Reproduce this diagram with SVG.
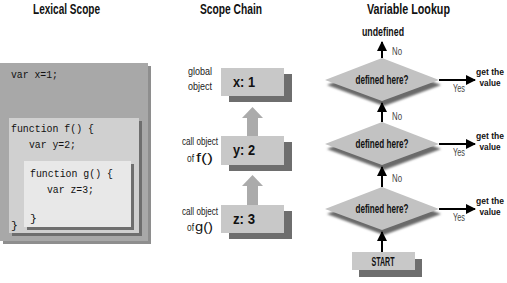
<svg xmlns="http://www.w3.org/2000/svg" width="507" height="283" viewBox="0 0 507 283">
<style>
.t{font-family:"Liberation Sans Narrow","Liberation Sans",sans-serif;font-weight:bold;font-size:14px;fill:#111}
.code{font-family:"Liberation Mono",monospace;font-size:11.5px;fill:#111}
.lbl{font-family:"Liberation Sans Narrow","Liberation Sans",sans-serif;font-size:11px;fill:#222}
.fn{font-family:"Liberation Sans",sans-serif;font-size:12px;fill:#111}
.b{font-family:"Liberation Sans Narrow","Liberation Sans",sans-serif;font-weight:bold;font-size:12px;fill:#111}
.v{font-family:"Liberation Sans Narrow","Liberation Sans",sans-serif;font-weight:bold;font-size:9px;fill:#111}
.yn{font-family:"Liberation Sans Narrow","Liberation Sans",sans-serif;font-size:11px;fill:#444}
.box{fill:#c8c8c8}
.sh{fill:#6e6e6e}
.blk{fill:#ababab}
.dia{fill:#c2c2c2}
.dsh{fill:#6a6a6a;filter:url(#blur)}
.line{stroke:#000;stroke-width:2;fill:none}
</style>
<defs>
<filter id="blur" x="-10%" y="-20%" width="120%" height="140%"><feGaussianBlur stdDeviation="1.2"/></filter>
<marker id="ah" viewBox="0 0 10 10" refX="9" refY="5" markerWidth="5" markerHeight="5" orient="auto" markerUnits="strokeWidth"><path d="M0,0 L10,5 L0,10 z" fill="#000"/></marker>
</defs>
<rect width="507" height="283" fill="#fff"/>

<!-- Titles -->
<text class="t" x="33" y="14" textLength="67" lengthAdjust="spacingAndGlyphs">Lexical Scope</text>
<text class="t" x="200" y="14" textLength="62" lengthAdjust="spacingAndGlyphs">Scope Chain</text>
<text class="t" x="367" y="14" textLength="83" lengthAdjust="spacingAndGlyphs">Variable Lookup</text>

<!-- Lexical scope -->
<g id="lexical">
<rect x="3" y="66" width="148" height="178" fill="#8e8e8e"/>
<rect x="0" y="63" width="148" height="178" fill="#a8a8a8"/>
<rect x="12" y="121" width="130" height="115" fill="#6e6e6e"/>
<rect x="9" y="118" width="130" height="115" fill="#d0d0d0"/>
<rect x="27" y="164" width="107" height="66" fill="#6e6e6e"/>
<rect x="24" y="161" width="107" height="66" fill="#e8e8e8"/>
<text class="code" x="11" y="78" textLength="47" lengthAdjust="spacingAndGlyphs">var x=1;</text>
<text class="code" x="11" y="132" textLength="83" lengthAdjust="spacingAndGlyphs">function f() {</text>
<text class="code" x="29" y="148" textLength="47" lengthAdjust="spacingAndGlyphs">var y=2;</text>
<text class="code" x="30" y="177" textLength="83" lengthAdjust="spacingAndGlyphs">function g() {</text>
<text class="code" x="47" y="193" textLength="47" lengthAdjust="spacingAndGlyphs">var z=3;</text>
<text class="code" x="30" y="222">}</text>
<text class="code" x="11" y="229">}</text>
</g>

<!-- Scope chain -->
<g id="global">
<rect class="sh" x="229" y="74" width="63" height="28"/>
<rect class="box" x="221" y="68" width="63" height="28"/>
<text class="t" x="233" y="87" textLength="22" lengthAdjust="spacingAndGlyphs">x: 1</text>
<text class="lbl" x="188" y="75" textLength="24" lengthAdjust="spacingAndGlyphs">global</text>
<text class="lbl" x="188" y="90" textLength="24" lengthAdjust="spacingAndGlyphs">object</text>
</g>
<g id="callf">
<rect class="sh" x="229" y="142" width="63" height="29"/>
<rect class="box" x="221" y="136" width="63" height="29"/>
<text class="t" x="233" y="155" textLength="22" lengthAdjust="spacingAndGlyphs">y: 2</text>
<text class="lbl" x="182" y="145" textLength="36" lengthAdjust="spacingAndGlyphs">call object</text>
<text class="lbl" x="187" y="162" textLength="7" lengthAdjust="spacingAndGlyphs">of</text>
<text class="fn" x="196" y="162" textLength="17" lengthAdjust="spacingAndGlyphs">f()</text>
</g>
<g id="callg">
<rect class="sh" x="229" y="211" width="63" height="28"/>
<rect class="box" x="221" y="205" width="63" height="28"/>
<text class="t" x="233" y="224" textLength="22" lengthAdjust="spacingAndGlyphs">z: 3</text>
<text class="lbl" x="182" y="215" textLength="36" lengthAdjust="spacingAndGlyphs">call object</text>
<text class="lbl" x="187" y="231" textLength="7" lengthAdjust="spacingAndGlyphs">of</text>
<text class="fn" x="195" y="231" textLength="18" lengthAdjust="spacingAndGlyphs">g()</text>
</g>

<!-- Variable lookup nodes -->
<g id="d1">
<polygon class="dsh" points="327,85 384,63 441,85 384,106"/>
<polygon class="dia" points="325,80 382,58 439,80 382,101"/>
<text class="b" x="382" y="84" text-anchor="middle" textLength="53" lengthAdjust="spacingAndGlyphs">defined here?</text>
</g>
<g id="d2">
<polygon class="dsh" points="327,149 384,127 441,149 384,170"/>
<polygon class="dia" points="325,144 382,122 439,144 382,165"/>
<text class="b" x="382" y="148" text-anchor="middle" textLength="53" lengthAdjust="spacingAndGlyphs">defined here?</text>
</g>
<g id="d3">
<polygon class="dsh" points="327,214 384,192 441,214 384,235"/>
<polygon class="dia" points="325,209 382,187 439,209 382,230"/>
<text class="b" x="382" y="213" text-anchor="middle" textLength="53" lengthAdjust="spacingAndGlyphs">defined here?</text>
</g>
<g id="start">
<rect class="sh" x="359" y="259" width="63" height="18"/>
<rect class="box" x="352" y="252" width="63" height="18"/>
<text class="b" x="383" y="266" text-anchor="middle" textLength="23" lengthAdjust="spacingAndGlyphs">START</text>
</g>
<g id="undefined">
<text class="b" x="383" y="36" text-anchor="middle" textLength="42" lengthAdjust="spacingAndGlyphs">undefined</text>
</g>
<g id="value1">
<text class="v" x="476" y="75" textLength="28" lengthAdjust="spacingAndGlyphs">get the</text>
<text class="v" x="490" y="86" text-anchor="middle" textLength="21" lengthAdjust="spacingAndGlyphs">value</text>
</g>
<g id="value2">
<text class="v" x="476" y="139" textLength="28" lengthAdjust="spacingAndGlyphs">get the</text>
<text class="v" x="490" y="150" text-anchor="middle" textLength="21" lengthAdjust="spacingAndGlyphs">value</text>
</g>
<g id="value3">
<text class="v" x="476" y="204" textLength="28" lengthAdjust="spacingAndGlyphs">get the</text>
<text class="v" x="490" y="215" text-anchor="middle" textLength="21" lengthAdjust="spacingAndGlyphs">value</text>
</g>

<!-- Connectors -->
<g id="connectors">
<polygon class="blk" points="252.5,107 263,118 258,118 258,136 247,136 247,118 242,118"/>
<polygon class="blk" points="252.5,175 263,186 258,186 258,205 247,205 247,186 242,186"/>
<line class="line" x1="382" y1="58" x2="382" y2="42" marker-end="url(#ah)"/>
<line class="line" x1="382" y1="122" x2="382" y2="103" marker-end="url(#ah)"/>
<line class="line" x1="382" y1="187" x2="382" y2="167" marker-end="url(#ah)"/>
<line class="line" x1="382" y1="252" x2="382" y2="232" marker-end="url(#ah)"/>
<line class="line" x1="439" y1="80" x2="475" y2="80" marker-end="url(#ah)"/>
<line class="line" x1="439" y1="144" x2="475" y2="144" marker-end="url(#ah)"/>
<line class="line" x1="439" y1="209" x2="475" y2="209" marker-end="url(#ah)"/>
<text class="yn" x="392" y="55" textLength="10" lengthAdjust="spacingAndGlyphs">No</text>
<text class="yn" x="392" y="120" textLength="10" lengthAdjust="spacingAndGlyphs">No</text>
<text class="yn" x="392" y="182" textLength="10" lengthAdjust="spacingAndGlyphs">No</text>
<text class="yn" x="453" y="92" textLength="12" lengthAdjust="spacingAndGlyphs">Yes</text>
<text class="yn" x="453" y="156" textLength="12" lengthAdjust="spacingAndGlyphs">Yes</text>
<text class="yn" x="453" y="221" textLength="12" lengthAdjust="spacingAndGlyphs">Yes</text>
</g>
</svg>
